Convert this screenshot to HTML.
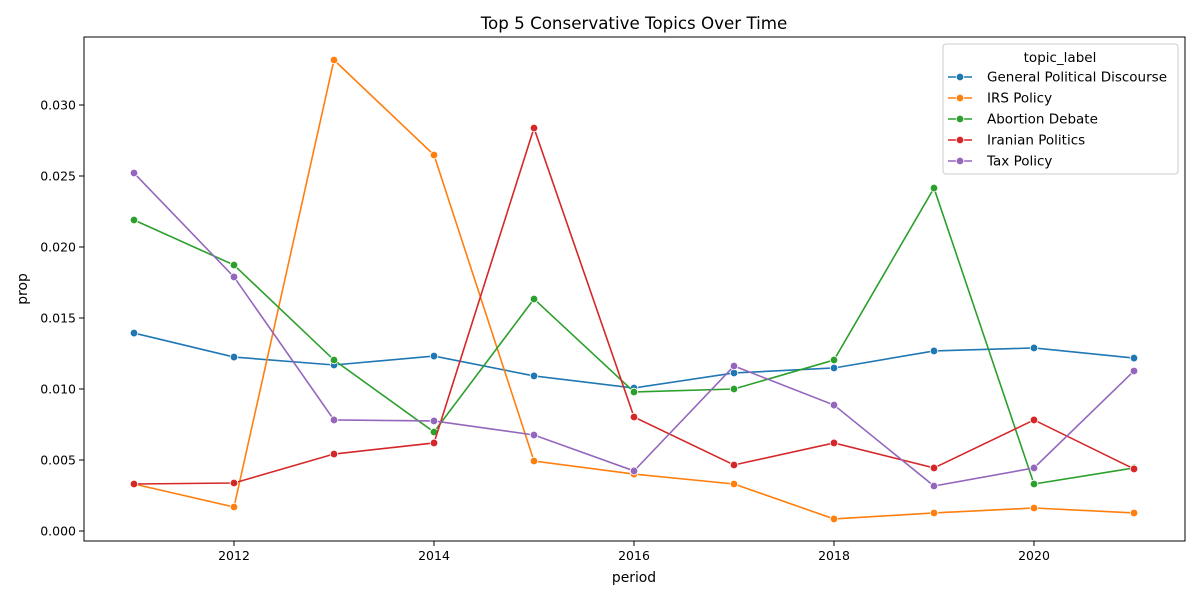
<!DOCTYPE html>
<html><head><meta charset="utf-8"><style>
body{margin:0;background:#fff;}
svg{font-family:"DejaVu Sans","Liberation Sans",sans-serif;}
</style></head><body>
<svg id="chart" width="1200" height="600"></svg>
<script>
const years=[2011,2012,2013,2014,2015,2016,2017,2018,2019,2020,2021];
const seriesNames=["General Political Discourse","IRS Policy","Abortion Debate","Iranian Politics","Tax Policy"];
const colors=["#1f77b4","#ff7f0e","#2ca02c","#d62728","#9467bd"];
const general=[0.01394,0.01225,0.01169,0.01232,0.01092,0.01007,0.01113,0.01148,0.01268,0.01289,0.01218];
const irs=[0.00331,0.00169,0.03317,0.02648,0.00493,0.00401,0.00331,0.00085,0.00127,0.00162,0.00127];
const abortion=[0.0219,0.01873,0.01204,0.00697,0.01634,0.00979,0.0100,0.01204,0.02415,0.00331,0.00444];
const iranian=[0.00331,0.00338,0.00542,0.0062,0.02838,0.00803,0.00465,0.0062,0.00444,0.00782,0.00437];
const tax=[0.02521,0.01789,0.00782,0.00775,0.00676,0.00423,0.01162,0.00887,0.00317,0.00444,0.01127];
const xTicks=[2012,2014,2016,2018,2020];
const yTicks=[0,0.005,0.01,0.015,0.02,0.025,0.03];
const allSeries=[general,irs,abortion,iranian,tax];

const NS="http://www.w3.org/2000/svg";
const svg=document.getElementById('chart');
const L=84,R=1185,T=37,B=541;
const xs=v=>134+(v-2011)*100;
const ys=v=>531-v*14200;
function mk(tag,attrs,parent){const e=document.createElementNS(NS,tag);for(const k in attrs)e.setAttribute(k,attrs[k]);(parent||svg).appendChild(e);return e;}

const title=mk('text',{x:634,y:29,'text-anchor':'middle','font-size':16.7,fill:'#000'});
title.textContent="Top 5 Conservative Topics Over Time";



const frame=mk('rect',{x:L,y:T,width:R-L,height:B-T,fill:'none',stroke:'#000','stroke-width':1});



xTicks.forEach(t=>{
  const x=xs(t);
  const tk=mk('line',{x1:x,x2:x,y1:B,y2:B+5,stroke:'#000'});
  
  
  const lb=mk('text',{x:x,y:B+19,'text-anchor':'middle','font-size':12.5});
  lb.textContent=t;
  
  
});
yTicks.forEach(t=>{
  const y=ys(t);
  const tk=mk('line',{x1:L-5,x2:L,y1:y,y2:y,stroke:'#000'});
  
  
  const lb=mk('text',{x:L-8,y:y+4.5,'text-anchor':'end','font-size':12.5});
  lb.textContent=t.toFixed(3);
  
  
});
const xt=mk('text',{x:634,y:582,'text-anchor':'middle','font-size':13.9});
xt.textContent="period";


const yt=mk('text',{x:27,y:289,'text-anchor':'middle','font-size':13.9,transform:'rotate(-90 27 289)'});
yt.textContent="prop";



allSeries.forEach((s,i)=>{
  const g=mk('g',{});
  
  
  const pts=s.map((v,j)=>xs(years[j])+','+ys(v)).join(' ');
  const pl=mk('polyline',{points:pts,fill:'none',stroke:colors[i],'stroke-width':1.6},g);
  
  
  s.forEach((v,j)=>{
    const c=mk('circle',{cx:xs(years[j]),cy:ys(v),r:3.8,fill:colors[i],stroke:'#fff','stroke-width':0.8},g);
    
    
  });
});

const lg=mk('g',{});


mk('rect',{x:943,y:44,width:235,height:130,rx:3,fill:'#fff','fill-opacity':0.8,stroke:'#ccc'},lg);
const lt=mk('text',{x:1060,y:62,'text-anchor':'middle','font-size':13.5},lg);
lt.textContent="topic_label";
seriesNames.forEach((n,i)=>{
  const y=77+i*21;
  const e=mk('g',{},lg);
  
  
  mk('line',{x1:948,x2:972,y1:y,y2:y,stroke:colors[i],'stroke-width':1.6},e);
  mk('circle',{cx:960,cy:y,r:3.8,fill:colors[i],stroke:'#fff','stroke-width':0.8},e);
  const t=mk('text',{x:987,y:y+4.5,'font-size':13.5},e);
  t.textContent=n;
});
</script>
</body></html>
